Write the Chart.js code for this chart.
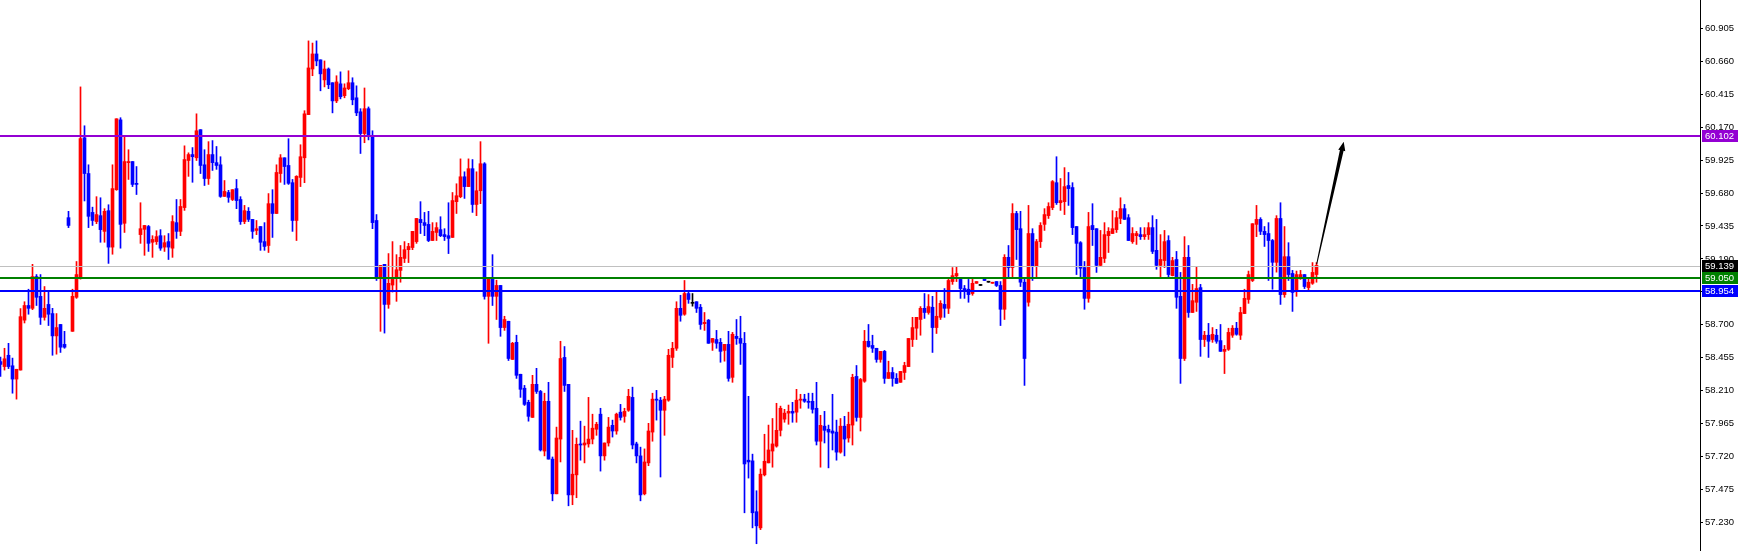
<!DOCTYPE html>
<html>
<head>
<meta charset="utf-8">
<script src="https://cdn.jsdelivr.net/npm/chart.js@4.4.1/dist/chart.umd.min.js"></script>
<style>
html,body{margin:0;padding:0;background:#fff;}
#wrap{width:1742px;height:551px;position:relative;}
</style>
</head>
<body>
<div id="wrap"><canvas id="c"></canvas></div>
<script>
// ---- data ----
const opens = [
58.427,58.390,58.474,58.396,58.297,58.364,58.735,58.844,58.823,59.059,
58.912,58.756,58.852,58.784,58.618,58.703,58.555,59.497,58.652,58.905,
59.048,60.091,59.825,59.536,59.468,59.512,59.395,59.549,59.278,59.705,
60.224,59.455,59.906,59.914,59.752,59.371,59.410,59.431,59.314,59.319,
59.363,59.278,59.319,59.270,59.460,59.395,59.572,59.922,59.966,59.942,
60.151,59.890,59.788,59.966,59.906,59.890,59.655,59.684,59.632,59.713,
59.632,59.468,59.544,59.484,59.402,59.431,59.319,59.290,59.601,59.528,
59.825,59.942,59.885,59.757,59.476,59.796,59.942,60.263,60.602,60.714,
60.670,60.521,60.602,60.500,60.365,60.492,60.404,60.456,60.500,60.388,
60.284,60.122,60.307,60.107,59.476,59.048,59.150,58.852,58.996,59.053,
59.105,59.194,59.259,59.275,59.319,59.484,59.460,59.447,59.327,59.387,
59.408,59.371,59.363,59.350,59.616,59.653,59.801,59.728,59.861,59.595,
59.697,59.898,58.912,59.045,58.912,58.993,58.680,58.727,58.443,58.570,
58.333,58.229,58.124,58.012,58.258,58.205,57.762,58.132,57.702,57.444,
57.851,58.458,58.258,57.436,57.585,57.815,57.807,57.815,57.851,57.924,
58.036,57.726,57.822,57.953,57.911,58.051,58.020,58.065,58.161,57.815,
57.726,57.444,57.674,57.903,58.148,58.140,58.065,58.140,58.458,58.526,
58.823,58.779,58.933,58.860,58.872,58.831,58.709,58.735,58.570,58.591,
58.570,58.510,58.555,58.310,58.615,58.599,58.563,57.694,57.689,57.311,
57.191,57.585,57.674,57.762,57.799,57.916,57.999,58.044,58.057,58.051,
58.140,58.148,58.132,58.132,58.080,57.835,57.947,57.924,57.911,57.903,
57.754,57.947,57.859,57.955,58.317,58.012,58.281,58.578,58.547,58.526,
58.443,58.503,58.302,58.346,58.302,58.273,58.346,58.390,58.591,58.675,
58.740,58.823,58.792,58.831,58.680,58.756,58.852,58.823,59.022,59.064,
59.038,58.970,58.965,58.933,59.009,58.993,59.045,59.017,59.009,59.022,
58.993,58.816,59.202,59.126,59.528,59.415,59.017,58.868,59.379,59.134,
59.319,59.447,59.512,59.572,59.757,59.608,59.616,59.736,59.721,59.431,
59.311,59.126,58.897,59.439,59.415,59.142,59.194,59.363,59.379,59.408,
59.491,59.564,59.497,59.319,59.363,59.371,59.356,59.371,59.423,59.254,
59.142,59.178,59.327,59.066,59.186,58.912,58.450,59.202,58.792,58.868,
58.977,58.591,58.623,58.591,58.623,58.583,58.503,58.518,58.623,58.675,
58.623,58.784,58.889,59.030,59.447,59.484,59.395,59.379,59.327,59.165,
59.491,58.925,59.207,59.082,58.949,59.053,59.074,58.977,59.009,59.074
];
const highs = [
58.461,58.526,58.563,58.453,58.370,58.821,58.872,58.965,59.150,59.074,
59.074,58.985,58.944,58.823,58.784,58.703,58.652,59.544,58.965,59.171,
60.469,60.180,59.890,59.575,59.653,59.645,59.564,59.593,59.890,60.232,
60.240,60.099,60.002,59.914,59.877,59.608,59.439,59.439,59.363,59.400,
59.408,59.363,59.379,59.512,59.632,59.632,60.031,59.979,60.018,60.269,
60.151,60.002,60.062,60.070,60.026,59.950,59.773,59.700,59.705,59.781,
59.653,59.588,59.572,59.484,59.476,59.431,59.460,59.676,59.705,59.890,
59.966,59.942,60.084,59.781,59.809,60.039,60.292,60.811,60.795,60.811,
60.670,60.662,60.610,60.500,60.552,60.581,60.492,60.589,60.537,60.477,
60.307,60.461,60.320,60.143,59.520,59.142,59.150,59.230,59.319,59.222,
59.290,59.319,59.306,59.395,59.491,59.616,59.536,59.544,59.460,59.460,
59.504,59.415,59.608,59.684,59.749,59.934,59.838,59.934,59.929,59.838,
60.062,59.906,59.053,59.222,59.032,58.993,58.764,58.727,58.570,58.623,
58.333,58.250,58.140,58.325,58.377,58.213,58.192,58.273,57.718,57.940,
58.578,58.539,58.258,57.916,57.859,57.984,57.947,58.161,58.036,57.976,
58.080,57.822,58.012,57.992,58.044,58.109,58.080,58.221,58.237,57.828,
57.791,57.778,57.968,58.192,58.213,58.161,58.169,58.518,58.570,58.872,
58.920,59.030,58.957,58.933,58.872,58.852,58.792,58.740,58.599,58.659,
58.599,58.555,58.652,58.644,58.740,58.764,58.644,58.169,57.739,57.467,
57.629,57.887,57.955,58.004,58.117,58.096,58.072,58.104,58.124,58.221,
58.184,58.184,58.192,58.192,58.273,58.028,58.057,57.955,58.184,57.992,
58.004,58.020,58.051,58.333,58.398,58.302,58.659,58.703,58.623,58.526,
58.503,58.510,58.430,58.383,58.338,58.354,58.422,58.599,58.756,58.756,
58.836,58.933,58.925,58.912,58.949,58.880,58.970,59.053,59.126,59.134,
59.038,58.993,59.038,59.045,59.022,58.993,59.045,59.017,59.017,59.022,
59.022,59.222,59.290,59.601,59.544,59.544,59.053,59.588,59.415,59.335,
59.460,59.564,59.608,59.773,59.950,59.788,59.869,59.833,59.757,59.431,
59.319,59.171,59.536,59.601,59.415,59.402,59.460,59.423,59.549,59.544,
59.645,59.595,59.520,59.423,59.395,59.423,59.423,59.460,59.512,59.484,
59.371,59.402,59.363,59.202,59.246,59.090,59.356,59.290,59.001,59.134,
59.001,58.652,58.711,58.680,58.667,58.703,58.547,58.675,58.695,58.719,
58.831,58.965,59.100,59.452,59.588,59.497,59.431,59.460,59.335,59.512,
59.608,59.431,59.311,59.105,59.100,59.105,59.074,59.045,59.163,59.163
];
const lows = [
58.317,58.364,58.375,58.192,58.148,58.364,58.714,58.779,58.813,58.844,
58.703,58.735,58.695,58.474,58.482,58.495,58.526,59.423,58.652,58.897,
59.040,59.621,59.423,59.439,59.452,59.314,59.314,59.157,59.225,59.700,
59.270,59.387,59.781,59.728,59.669,59.306,59.217,59.246,59.202,59.298,
59.254,59.246,59.186,59.202,59.343,59.363,59.551,59.804,59.760,59.922,
59.825,59.736,59.744,59.848,59.856,59.648,59.655,59.611,59.624,59.564,
59.447,59.452,59.468,59.343,59.371,59.254,59.254,59.238,59.350,59.528,
59.760,59.744,59.744,59.395,59.327,59.728,59.757,60.263,60.552,60.626,
60.440,60.469,60.456,60.276,60.352,60.380,60.388,60.448,60.336,60.255,
59.974,60.054,60.075,59.415,59.030,58.652,58.639,58.823,58.944,58.875,
59.017,59.163,59.163,59.259,59.306,59.379,59.363,59.319,59.327,59.327,
59.356,59.327,59.230,59.350,59.528,59.645,59.640,59.728,59.536,59.512,
59.601,58.891,58.563,58.844,58.740,58.615,58.659,58.435,58.443,58.302,
58.161,58.101,57.984,58.012,58.190,57.762,57.726,57.702,57.392,57.444,
57.681,58.205,57.355,57.363,57.415,57.694,57.674,57.791,57.815,57.879,
57.613,57.694,57.799,57.866,57.887,57.992,57.976,58.057,57.778,57.674,
57.392,57.436,57.653,57.835,57.992,57.569,57.879,58.132,58.383,58.510,
58.727,58.771,58.860,58.839,58.792,58.667,58.659,58.563,58.510,58.526,
58.422,58.430,58.281,58.273,58.555,58.406,57.303,57.561,57.191,57.073,
57.178,57.577,57.674,57.642,57.791,57.874,57.976,57.961,57.976,57.976,
58.080,58.124,58.080,58.044,57.807,57.642,57.822,57.637,57.770,57.694,
57.746,57.726,57.828,57.807,57.984,57.911,58.273,58.534,58.495,58.422,
58.422,58.265,58.302,58.244,58.265,58.273,58.294,58.390,58.539,58.591,
58.623,58.748,58.779,58.495,58.636,58.740,58.756,58.784,59.001,59.022,
58.897,58.897,58.868,58.920,59.009,58.993,59.030,59.017,59.009,58.985,
58.695,58.740,59.045,59.053,59.186,58.985,58.250,58.839,59.030,59.045,
59.275,59.402,59.491,59.556,59.595,59.551,59.520,59.588,59.371,59.074,
59.045,58.816,58.868,59.290,59.090,59.134,59.163,59.238,59.379,59.387,
59.452,59.484,59.327,59.306,59.298,59.335,59.335,59.335,59.230,59.113,
59.053,59.126,59.053,59.064,58.823,58.265,58.435,58.756,58.792,58.800,
58.466,58.539,58.458,58.570,58.563,58.503,58.338,58.510,58.607,58.623,
58.591,58.784,58.860,59.022,59.356,59.371,59.283,59.030,58.965,59.092,
58.852,58.905,59.030,58.800,58.912,59.038,58.970,58.957,59.001,59.017
];
const closes = [
58.406,58.448,58.390,58.297,58.370,58.761,58.844,58.823,59.059,58.905,
58.756,58.823,58.779,58.618,58.680,58.534,58.534,59.439,58.912,59.074,
60.084,59.825,59.507,59.476,59.520,59.408,59.544,59.278,59.713,60.232,
59.447,59.914,59.914,59.744,59.744,59.415,59.439,59.306,59.335,59.356,
59.270,59.311,59.278,59.468,59.395,59.580,59.929,59.966,59.950,60.143,
59.885,59.788,59.966,59.906,59.885,59.655,59.692,59.648,59.705,59.624,
59.468,59.549,59.484,59.395,59.415,59.314,59.283,59.601,59.528,59.833,
59.942,59.877,59.752,59.476,59.804,59.950,60.269,60.610,60.714,60.662,
60.566,60.602,60.485,60.365,60.506,60.396,60.461,60.500,60.373,60.276,
60.122,60.307,60.099,59.460,59.048,59.142,58.852,59.009,59.053,59.110,
59.202,59.259,59.283,59.395,59.491,59.460,59.439,59.327,59.395,59.423,
59.363,59.356,59.343,59.624,59.660,59.801,59.728,59.861,59.595,59.697,
59.898,58.912,59.053,58.912,58.993,58.680,58.740,58.450,58.563,58.325,
58.221,58.109,58.020,58.258,58.205,57.770,58.132,57.702,57.444,57.859,
58.450,58.250,57.436,57.590,57.812,57.807,57.822,57.851,57.932,57.961,
57.726,57.822,57.940,57.911,58.036,58.012,58.057,58.169,57.807,57.726,
57.436,57.681,57.911,58.148,58.140,58.065,58.148,58.474,58.526,58.823,
58.771,58.933,58.889,58.860,58.823,58.703,58.719,58.563,58.599,58.563,
58.503,58.555,58.302,58.630,58.599,58.563,57.666,57.681,57.303,57.206,
57.590,57.686,57.770,57.815,57.916,58.080,58.044,58.057,58.044,58.140,
58.148,58.132,58.124,58.072,57.835,57.953,57.916,57.903,57.895,57.754,
57.947,57.851,57.961,58.310,58.012,58.294,58.578,58.539,58.526,58.443,
58.503,58.302,58.346,58.302,58.265,58.354,58.398,58.599,58.680,58.756,
58.823,58.792,58.836,58.680,58.764,58.860,58.823,59.030,59.066,59.082,
58.970,58.957,58.925,59.009,59.022,58.993,59.030,59.017,59.017,58.993,
58.816,59.202,59.126,59.528,59.408,59.017,58.450,59.379,59.134,59.319,
59.439,59.520,59.580,59.765,59.608,59.624,59.728,59.713,59.423,59.306,
59.121,58.897,59.431,59.408,59.142,59.202,59.371,59.395,59.415,59.497,
59.564,59.484,59.327,59.379,59.379,59.356,59.371,59.423,59.246,59.142,
59.186,59.319,59.074,59.178,58.905,58.450,59.202,58.792,58.880,58.970,
58.591,58.623,58.578,58.630,58.578,58.503,58.518,58.644,58.675,58.630,
58.792,58.897,59.074,59.452,59.484,59.395,59.371,59.327,59.165,59.491,
58.925,59.207,59.074,58.941,59.074,59.074,58.985,59.017,59.090,59.142
];
const tickLabels = ['57.230','57.475','57.720','57.965','58.210','58.455','58.700','58.945','59.190','59.435','59.680','59.925','60.170','60.415','60.660','60.905'];
const levelValues = [60.102, 59.139, 59.050, 58.954];
const levelLabels = ['60.102', '59.139', '59.050', '58.954'];
const arrowFrom = [329.05, 59.152];
const arrowTo = [335.8, 60.062];

// ---- styles ----
const UP = '#ff0000', DOWN = '#0000ff', DOJI = '#000000';
const levelLineColors = ['#9400d3', '#c0c0c0', '#008000', '#0000ff'];
const levelLineWidths = [2, 1, 2, 2];
const levelBoxColors = ['#9400d3', '#000000', '#008000', '#0000ff'];
const FONT = 'Liberation Sans, Arial, sans-serif';

const idx = opens.map((_, i) => i);
const candleColors = idx.map(i => closes[i] > opens[i] ? UP : (closes[i] < opens[i] ? DOWN : DOJI));
const tickValues = tickLabels.map(Number);

const overlay = {
  id: 'overlay',
  afterDatasetsDraw(chart) {
    const {ctx, chartArea, scales} = chart;
    const y = scales.y, x = scales.x;
    ctx.save();
    levelValues.forEach((v, k) => {
      const py = y.getPixelForValue(v);
      const w = levelLineWidths[k];
      const yy = w % 2 === 1 ? Math.round(py) + 0.5 : Math.round(py);
      ctx.strokeStyle = levelLineColors[k];
      ctx.lineWidth = w;
      ctx.beginPath();
      ctx.moveTo(chartArea.left, yy);
      ctx.lineTo(chartArea.right, yy);
      ctx.stroke();
    });
    // arrow
    const ax = x.getPixelForValue(arrowFrom[0]), ay = y.getPixelForValue(arrowFrom[1]);
    const bx = x.getPixelForValue(arrowTo[0]), by = y.getPixelForValue(arrowTo[1]);
    const dx = bx - ax, dy = by - ay, len = Math.hypot(dx, dy);
    const ux = dx / len, uy = dy / len, nx = -uy, ny = ux;
    const headLen = 9, headW = 3.6, shaftEnd = 1.9, shaftStart = 0.5;
    const hx = bx - ux * headLen, hy = by - uy * headLen;
    ctx.fillStyle = '#000';
    ctx.beginPath();
    ctx.moveTo(ax + nx * shaftStart, ay + ny * shaftStart);
    ctx.lineTo(hx + nx * shaftEnd, hy + ny * shaftEnd);
    ctx.lineTo(hx + nx * headW, hy + ny * headW);
    ctx.lineTo(bx, by);
    ctx.lineTo(hx - nx * headW, hy - ny * headW);
    ctx.lineTo(hx - nx * shaftEnd, hy - ny * shaftEnd);
    ctx.lineTo(ax - nx * shaftStart, ay - ny * shaftStart);
    ctx.closePath();
    ctx.fill();
    ctx.restore();
  },
  afterDraw(chart) {
    const {ctx, chartArea, scales} = chart;
    const y = scales.y;
    ctx.save();
    ctx.font = '9.5px ' + FONT;
    ctx.textBaseline = 'middle';
    ctx.textAlign = 'left';
    levelValues.forEach((v, k) => {
      const py = Math.round(y.getPixelForValue(v));
      const bx = chartArea.right + 2, bw = 36, bh = 12;
      ctx.fillStyle = levelBoxColors[k];
      ctx.fillRect(bx, py - 6, bw, bh);
      ctx.fillStyle = '#ffffff';
      ctx.fillText(levelLabels[k], bx + 3, py + 0.5);
    });
    ctx.restore();
  }
};

new Chart(document.getElementById('c'), {
  type: 'bar',
  data: {
    datasets: [
      {
        label: 'bodies',
        data: idx.map(i => ({x: i, y: [Math.min(opens[i], closes[i]), Math.max(opens[i], closes[i])]})),
        backgroundColor: candleColors,
        borderWidth: 0,
        barThickness: 3,
        minBarLength: 1,
        grouped: false,
        order: 1
      },
      {
        label: 'wicks',
        data: idx.map(i => ({x: i, y: [lows[i], highs[i]]})),
        backgroundColor: candleColors,
        borderWidth: 0,
        barThickness: 1,
        minBarLength: 1,
        grouped: false,
        order: 2
      }
    ]
  },
  options: {
    responsive: true,
    maintainAspectRatio: false,
    animation: false,
    layout: {padding: 0},
    plugins: {legend: {display: false}, tooltip: {enabled: false}},
    scales: {
      x: {
        type: 'linear',
        display: false,
        min: -0.125,
        max: 424.875,
        offset: false
      },
      y: {
        position: 'right',
        min: 57.019,
        max: 61.115,
        afterBuildTicks: s => { s.ticks = tickValues.map(v => ({value: v})); },
        afterFit: s => { s.width = 42; s.paddingTop = 0; s.paddingBottom = 0; },
        ticks: {
          autoSkip: false,
          color: '#000',
          padding: 2,
          font: {family: FONT, size: 9.5},
          callback: (v, i) => tickLabels[i]
        },
        grid: {drawOnChartArea: false, drawTicks: true, tickLength: 3, color: '#000'},
        border: {display: true, color: '#000', width: 1}
      }
    }
  },
  plugins: [overlay]
});
</script>
</body>
</html>
